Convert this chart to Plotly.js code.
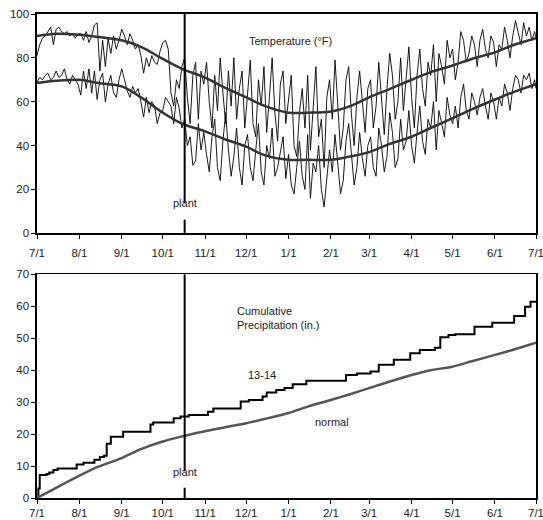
<!DOCTYPE html>
<html>
<head>
<meta charset="utf-8">
<script src="https://cdn.plot.ly/plotly-3.0.1.min.js"></script>
<style>html,body{margin:0;padding:0;background:#fff;}#chart{width:543px;height:520px;}</style>
</head>
<body>
<div id="chart"></div>
<script>
// ---- axis ticks ----
const monthTicks = ['2013-07-01','2013-08-01','2013-09-01','2013-10-01','2013-11-01','2013-12-01',
  '2014-01-01','2014-02-01','2014-03-01','2014-04-01','2014-05-01','2014-06-01','2014-07-01'];
const monthLabels = ['7/1','8/1','9/1','10/1','11/1','12/1','1/1','2/1','3/1','4/1','5/1','6/1','7/1'];
const plantDate = '2013-10-17';

// ---- daily temperatures (°F), read every 2 days from 7/1/2013; last value = 7/1/2014 ----
const tempStart = '2013-07-01';
const tempStepDays = 2;
const tempEnd = '2014-07-01';
const dailyHigh = [
  81,86,89,90,92,94,86,93,94,92,91,92,90,91,89,91,      // Jul
  91,88,92,87,90,95,96,74,88,76,89,82,90,84,88,         // Aug
  93,90,86,91,88,84,86,81,73,80,76,81,78,77,83,         // Sep
  87,88,84,64,58,70,66,76,80,62,50,72,78,52,74,68,      // Oct
  78,60,48,72,56,80,64,50,74,58,80,52,66,74,48,         // Nov
  62,79,50,44,70,58,76,46,62,80,55,42,68,74,50,         // Dec
  60,72,40,35,55,66,48,72,38,58,76,44,52,30,62,70,      // Jan
  52,79,60,38,48,70,76,54,40,62,74,58,46,66,            // Feb
  70,48,58,78,62,45,66,82,72,52,60,80,56,70,85,         // Mar
  62,48,72,84,66,58,78,72,86,60,82,76,68,88,80,         // Apr
  84,70,78,92,88,78,82,90,86,76,88,93,84,80,90,87,      // May
  76,86,84,94,88,80,90,97,92,86,96,90,94,88,92,         // Jun
  89];
const dailyLow = [
  69,71,70,72,73,70,71,74,71,72,75,70,68,72,70,68,      // Jul
  63,74,66,75,64,74,61,70,73,60,68,72,64,62,70,         // Aug
  75,70,65,62,67,64,66,60,53,62,55,60,58,50,55,         // Sep
  56,62,60,58,50,62,57,48,52,40,44,31,33,50,38,46,      // Oct
  36,28,44,52,30,24,42,55,38,26,35,48,30,22,40,         // Nov
  45,30,24,38,50,28,22,40,34,48,26,30,38,44,25,         // Dec
  36,22,18,30,42,26,20,45,16,32,28,40,20,12,24,38,      // Jan
  28,45,32,18,24,42,50,36,22,30,46,34,26,40,            // Feb
  44,30,26,48,40,28,35,55,46,30,34,52,38,42,56,         // Mar
  40,32,46,58,42,36,52,48,60,38,56,50,44,62,54,         // Apr
  50,58,48,62,68,56,52,64,60,54,62,66,58,52,64,60,      // May
  52,62,58,68,64,56,66,72,70,64,72,70,73,66,70,         // Jun
  66];

// ---- normal temperatures ----
const normDates = ['2013-07-01','2013-07-15','2013-08-01','2013-08-15','2013-09-01','2013-09-15',
  '2013-10-01','2013-10-15','2013-11-01','2013-11-15','2013-12-01','2013-12-15','2014-01-01',
  '2014-01-15','2014-02-01','2014-02-15','2014-03-01','2014-03-15','2014-04-01','2014-04-15',
  '2014-05-01','2014-05-15','2014-06-01','2014-06-15','2014-07-01'];
const normHigh = [90,91,90.5,89.5,88,85,79.5,75,71,66.5,62,58,55,55,55.5,58,62,65.5,70,73.5,76.5,79.5,82.5,86,89];
const normLow  = [68.5,69.5,70,68.5,67,62,55,50,46.5,43,39.5,35.5,33.5,33.5,33.5,35,37,40.5,44,48,52.5,56.5,61,64.5,68];

// ---- cumulative precipitation 2013-14 (in.) ----
const precipDates = ['2013-07-01','2013-07-02','2013-07-03','2013-07-08','2013-07-10','2013-07-13',
  '2013-07-16','2013-07-30','2013-08-04','2013-08-12','2013-08-16','2013-08-19','2013-08-21',
  '2013-08-24','2013-09-02','2013-09-22','2013-09-24','2013-10-09','2013-10-14','2013-10-20',
  '2013-11-03','2013-11-07','2013-11-27','2013-12-03','2013-12-13','2013-12-16','2013-12-23',
  '2013-12-29','2014-01-04','2014-01-14','2014-02-12','2014-02-20','2014-03-02','2014-03-08',
  '2014-03-19','2014-03-31','2014-04-07','2014-04-18','2014-04-22','2014-04-28','2014-05-03',
  '2014-05-17','2014-05-30','2014-06-15','2014-06-23','2014-06-27','2014-07-01'];
const precip1314 = [0,3,7.2,7.5,8.0,8.8,
  9.2,10.5,11.0,12.0,12.8,13.2,17.0,
  19.2,20.7,23.0,23.6,25.0,25.5,26.0,
  27.0,28.0,30.2,30.7,31.8,33.0,33.8,
  34.4,35.6,36.7,38.5,39.0,39.6,41.7,
  43.3,45.3,46.3,47.0,50.3,51.0,51.3,
  53.6,54.9,57.0,59.9,61.4,61.6];
const precipNormal = [0,3.2,7,9.8,12.5,15.3,17.7,19.3,20.9,22.1,23.4,24.8,26.6,28.6,30.7,32.5,34.4,36.3,38.5,40,41.1,42.8,44.8,46.5,48.6];

// ---- build daily date axis ----
function addDays(iso, n) {
  const d = new Date(iso + 'T00:00:00Z');
  d.setUTCDate(d.getUTCDate() + n);
  return d.toISOString().slice(0, 10);
}
const tempDates = dailyHigh.map((_, i) => i === dailyHigh.length - 1 ? tempEnd : addDays(tempStart, i * tempStepDays));

const FONT = 'Liberation Sans, Arial, sans-serif';
const TXT = '#222';

const traces = [
  {x: tempDates, y: dailyHigh, mode: 'lines', line: {color: '#000', width: 0.9}, xaxis: 'x', yaxis: 'y'},
  {x: tempDates, y: dailyLow, mode: 'lines', line: {color: '#000', width: 0.9}, xaxis: 'x', yaxis: 'y'},
  {x: normDates, y: normHigh, mode: 'lines', line: {color: '#333', width: 2.5, shape: 'spline', smoothing: 1}, xaxis: 'x', yaxis: 'y'},
  {x: normDates, y: normLow, mode: 'lines', line: {color: '#333', width: 2.5, shape: 'spline', smoothing: 1}, xaxis: 'x', yaxis: 'y'},
  {x: precipDates, y: precip1314, mode: 'lines', line: {color: '#000', width: 2, shape: 'hv'}, xaxis: 'x2', yaxis: 'y2'},
  {x: normDates, y: precipNormal, mode: 'lines', line: {color: '#555', width: 2.5, shape: 'spline', smoothing: 0.6}, xaxis: 'x2', yaxis: 'y2'}
];

const xCommon = {
  type: 'date', range: ['2013-07-01', '2014-07-01'],
  tickmode: 'array', tickvals: monthTicks, ticktext: monthLabels,
  ticks: 'outside', ticklen: 4, tickwidth: 1, tickcolor: '#000',
  showline: true, linecolor: '#000', linewidth: 1.6, mirror: true,
  showgrid: false, zeroline: false, ticklabeloverflow: 'allow',
  tickfont: {family: FONT, size: 11.5, color: TXT}
};
const yCommon = {
  ticks: 'outside', ticklen: 4, tickwidth: 1, tickcolor: '#000',
  showline: true, linecolor: '#000', linewidth: 1.6, mirror: true,
  showgrid: false, zeroline: false,
  tickfont: {family: FONT, size: 11.5, color: TXT}
};

// plant marker line, with a gap left for its label
function plantLine(xr, yr, gapLo, gapHi) {
  const base = {type: 'line', xref: xr, yref: yr + ' domain', x0: plantDate, x1: plantDate, line: {color: '#000', width: 2}};
  return [Object.assign({}, base, {y0: 0, y1: gapLo}), Object.assign({}, base, {y0: gapHi, y1: 1})];
}

const layout = {
  width: 543, height: 520,
  margin: {l: 37, r: 7, t: 14, b: 22},
  paper_bgcolor: '#fff', plot_bgcolor: '#fff',
  showlegend: false,
  xaxis: Object.assign({}, xCommon, {anchor: 'y', ticklabelstandoff: 4}),
  xaxis2: Object.assign({}, xCommon, {anchor: 'y2', ticklabelstandoff: 0}),
  yaxis: Object.assign({}, yCommon, {domain: [0.547, 1], range: [0, 100], dtick: 20, anchor: 'x'}),
  yaxis2: Object.assign({}, yCommon, {domain: [0, 0.462], range: [0, 70], dtick: 10, anchor: 'x2'}),
  shapes: plantLine('x', 'y', 0.062, 0.138).concat(plantLine('x2', 'y2', 0.046, 0.12)),
  annotations: [
    {text: 'Temperature (°F)', xref: 'x domain', yref: 'y domain', x: 0.509, y: 0.915, showarrow: false, font: {family: FONT, size: 11, color: TXT}},
    {text: 'plant', xref: 'x', yref: 'y domain', x: plantDate, y: 0.1, showarrow: false, font: {family: FONT, size: 11, color: TXT}},
    {text: 'Cumulative<br>Precipitation (in.)', xref: 'x2 domain', yref: 'y2 domain', x: 0.397, y: 0.872, xanchor: 'left', align: 'left', showarrow: false, font: {family: FONT, size: 11, color: TXT}},
    {text: '13-14', xref: 'x2 domain', yref: 'y2 domain', x: 0.451, y: 0.55, showarrow: false, font: {family: FONT, size: 11, color: TXT}},
    {text: 'normal', xref: 'x2 domain', yref: 'y2 domain', x: 0.591, y: 0.338, showarrow: false, font: {family: FONT, size: 11, color: TXT}},
    {text: 'plant', xref: 'x2', yref: 'y2 domain', x: plantDate, y: 0.082, showarrow: false, font: {family: FONT, size: 11, color: TXT}}
  ]
};

Plotly.newPlot('chart', traces, layout, {displayModeBar: false, staticPlot: true});
</script>
</body>
</html>
